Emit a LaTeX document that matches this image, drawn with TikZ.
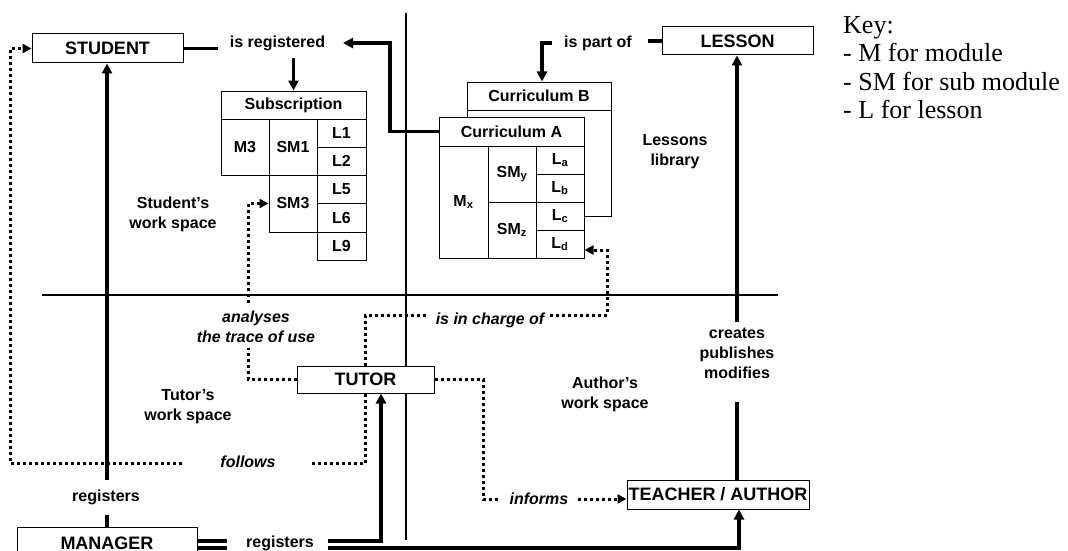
\documentclass[tikz,border=0pt]{standalone}
\usepackage{fontspec}
\setmainfont{Liberation Sans}
\newfontfamily\keyfont{Liberation Serif}
\usetikzlibrary{arrows.meta}
\begin{document}
\begin{tikzpicture}[x=1pt,y=-1pt,
 box/.style={draw, line width=1pt, fill=white, inner sep=0pt, font=\bfseries\fontsize{18}{20}\selectfont},
 cell/.style={draw, line width=1pt, fill=white, inner sep=0pt, font=\bfseries\fontsize{16}{20}\selectfont},
 lbl/.style={inner sep=0pt, align=center, font=\bfseries\fontsize{16}{20}\selectfont},
 ilbl/.style={inner sep=0pt, align=center, font=\bfseries\itshape\fontsize{16}{20}\selectfont},
 keytxt/.style={inner sep=0pt, anchor=base west, font=\keyfont\fontsize{26}{28}\selectfont},
 conn/.style={line width=3.5pt},
 axis/.style={line width=2.8pt},
 dots/.style={line width=3pt, dash pattern=on 3pt off 3pt},
 arr/.style={-{Triangle[length=10pt,width=10pt]}},
 sarr/.style={-{Triangle[length=9pt,width=9pt]}},
]
\useasboundingbox (0,0) rectangle (1068,551);
% axes
\coordinate (vtop) at (406,13); \coordinate (vbot) at (406,540);
\coordinate (hl) at (42,295); \coordinate (hr) at (778,295);
\draw[axis] (vtop) -- (vbot);
\draw[axis] (hl) -- (hr);
% boxes
\node[box, minimum width=151pt, minimum height=29pt] (student) at (107.5,48.5) {STUDENT};
\node[box, minimum width=151pt, minimum height=28pt] (lesson) at (737.5,41) {LESSON};
\node[box, minimum width=137pt, minimum height=27pt] (tutor) at (365.5,379.5) {TUTOR};
\node[box, minimum width=182pt, minimum height=29pt] (teacher) at (718,494.5) {TEACHER / AUTHOR};
\node[box, minimum width=180pt, minimum height=32pt] (manager) at (107,543) {MANAGER};
% subscription table
\node[cell, minimum width=145pt, minimum height=28pt] (subh) at (293.5,105) {Subscription};
\node[cell, minimum width=48pt, minimum height=56pt] (m3) at (245,147) {M3};
\node[cell, minimum width=48pt, minimum height=56pt] (sm1) at (293,147) {SM1};
\node[cell, minimum width=49pt, minimum height=28pt] (l1) at (341.5,133) {L1};
\node[cell, minimum width=49pt, minimum height=28pt] (l2) at (341.5,161) {L2};
\node[cell, minimum width=48pt, minimum height=57pt] (sm3) at (293,203.5) {SM3};
\node[cell, minimum width=49pt, minimum height=28.5pt] (l5) at (341.5,189.25) {L5};
\node[cell, minimum width=49pt, minimum height=28.5pt] (l6) at (341.5,217.75) {L6};
\node[cell, minimum width=49pt, minimum height=28pt] (l9) at (341.5,246) {L9};
% curriculum B (behind)
\draw[line width=1pt] (467,110) rectangle (611,216);
\node[cell, minimum width=144pt, minimum height=28pt] (cBh) at (539,96) {Curriculum B};
% curriculum A
\node[cell, minimum width=145pt, minimum height=29pt] (cAh) at (511.5,131.5) {Curriculum A};
\node[cell, minimum width=49pt, minimum height=112pt] (mx) at (463.5,202) {M\textsubscript{x}};
\node[cell, minimum width=48pt, minimum height=56pt] (smy) at (512,174) {SM\textsubscript{y}};
\node[cell, minimum width=48pt, minimum height=56pt] (smz) at (512,230) {SM\textsubscript{z}};
\node[cell, minimum width=48pt, minimum height=28pt] (la) at (560,160) {L\textsubscript{a}};
\node[cell, minimum width=48pt, minimum height=28pt] (lb) at (560,188) {L\textsubscript{b}};
\node[cell, minimum width=48pt, minimum height=28pt] (lc) at (560,216) {L\textsubscript{c}};
\node[cell, minimum width=48pt, minimum height=28pt] (ld) at (560,244) {L\textsubscript{d}};
% region labels
\node[lbl] (sws) at (173,214) {Student’s\\work space};
\node[lbl] (lib) at (675,152) {Lessons\\library};
\node[lbl] (tws) at (188,407) {Tutor’s\\work space};
\node[lbl] (aws) at (605,394) {Author’s\\work space};
% is registered
\node[lbl] (isreg) at (277.5,43) {is registered};
\coordinate (sr) at (218,48.5);
\coordinate (regturn) at (390,43);
\coordinate (isregE) at (343,43);
\coordinate (isregS) at (293.5,58);
\draw[conn] (student.east) -- (sr);
\draw[conn,arr] (cAh.west) -| (regturn) -- (isregE);
\draw[conn,arr] (isregS) -- (subh.north);
% is part of
\node[lbl] (ispart) at (598,43) {is part of};
\coordinate (lw) at (648,41);
\coordinate (pstart) at (552,43); \coordinate (pturn) at (542,43);
\draw[conn] (lesson.west) -- (lw);
\draw[conn,arr] (pstart) -- (pturn) -- (pturn |- cBh.north);
% creates publishes modifies
\node[lbl] (creates) at (737,353) {creates\\publishes\\modifies};
\coordinate (cr1) at (737,402); \coordinate (cr2) at (737,322);
\draw[conn] (cr1 |- teacher.north) -- (cr1);
\draw[conn,arr] (cr2) -- (cr2 |- lesson.south);
% manager registers student
\node[lbl] (reg1) at (106,497) {registers};
\coordinate (m1) at (107,515); \coordinate (m2) at (107,480);
\draw[conn] (m1 |- manager.north) -- (m1);
\draw[conn,arr] (m2) -- (m2 |- student.south);
% manager registers tutor / teacher
\node[lbl] (reg2) at (280,543) {registers};
\coordinate (da1) at (197,541); \coordinate (da2) at (227,541);
\coordinate (db1) at (197,548); \coordinate (db2) at (227,548);
\coordinate (dc1) at (328,541); \coordinate (dc2) at (381,541);
\coordinate (dd1) at (328,548); \coordinate (dd2) at (739,548);
\draw[conn] (da1) -- (da2);
\draw[conn] (db1) -- (db2);
\draw[conn,arr] (dc1) -- (dc2) -- (dc2 |- tutor.south);
\draw[conn,arr] (dd1) -- (dd2) -- (dd2 |- teacher.south);
% analyses the trace of use
\node[ilbl] (analyses) at (256,327) {analyses\\the trace of use};
\coordinate (an1) at (248,379.5); \coordinate (an2) at (248,348);
\coordinate (an3) at (248,303); \coordinate (an4) at (248,203.5);
\draw[dots] (tutor.west) -- (an1) -- (an2);
\draw[dots,sarr] (an3) -- (an4) -- (sm3.west);
% is in charge of
\node[ilbl] (charge) at (490,320) {is in charge of};
\coordinate (ch1) at (365,315); \coordinate (ch2) at (427,315);
\coordinate (ch3) at (550,315); \coordinate (ch4) at (607,315);
\coordinate (ch5) at (607,250);
\draw[dots] (ch1 |- tutor.north) -- (ch1) -- (ch2);
\draw[dots,sarr] (ch3) -- (ch4) -- (ch5) -- (ch5 -| ld.east);
% follows
\node[ilbl] (follows) at (248,462) {follows};
\coordinate (f1) at (365,463); \coordinate (f2) at (310,463);
\coordinate (f3) at (182,463); \coordinate (f4) at (10,463);
\coordinate (f5) at (10,48.5);
\draw[dots] (f1 |- tutor.south) -- (f1) -- (f2);
\draw[dots,sarr] (f3) -- (f4) -- (f5) -- (student.west);
% informs
\node[ilbl] (informs) at (539,499) {informs};
\coordinate (i1) at (483,379.5); \coordinate (i2) at (483,499);
\coordinate (i3) at (498,499); \coordinate (i4) at (578,499);
\draw[dots] (tutor.east) -- (i1) -- (i2) -- (i3);
\draw[dots,sarr] (i4) -- (i4 -| teacher.west);
% key
\node[keytxt] (k1) at (843,34) {Key:};
\node[keytxt] (k2) at (843,62) {- M for module};
\node[keytxt] (k3) at (843,90) {- SM for sub module};
\node[keytxt] (k4) at (843,118) {- L for lesson};
\end{tikzpicture}
\end{document}
